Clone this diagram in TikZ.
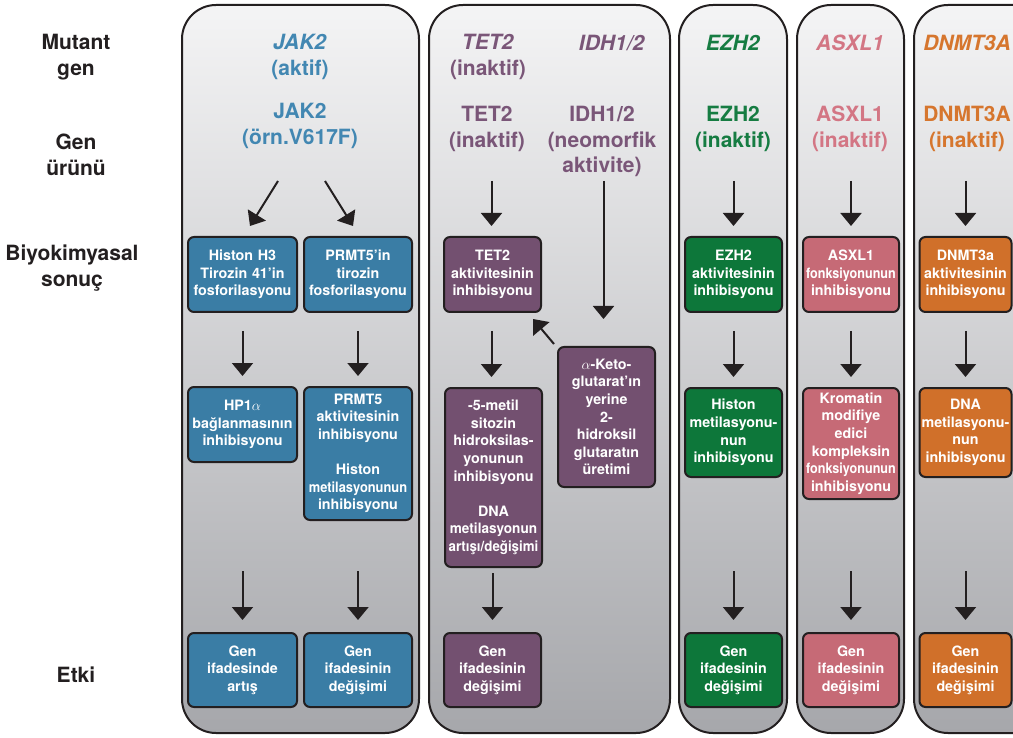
\documentclass[tikz,border=0pt]{standalone}
\usepackage{fontspec}
\setmainfont{TeX Gyre Heros}
\usepackage{graphicx}
\usetikzlibrary{arrows.meta,calc}
\definecolor{ink}{RGB}{35,31,32}
\definecolor{panelTop}{RGB}{244,244,245}
\definecolor{panelBot}{RGB}{166,167,171}
\definecolor{cBlue}{RGB}{58,125,165}
\definecolor{tBlue}{RGB}{66,135,178}
\definecolor{cPurple}{RGB}{115,80,112}
\definecolor{tPurple}{RGB}{122,86,120}
\definecolor{cGreen}{RGB}{13,119,58}
\definecolor{tGreen}{RGB}{22,124,66}
\definecolor{cPink}{RGB}{198,106,118}
\definecolor{tPink}{RGB}{211,118,132}
\definecolor{cOrange}{RGB}{208,112,42}
\definecolor{tOrange}{RGB}{214,118,46}
\newcommand{\cmpr}[2][0.92]{\scalebox{#1}[1]{#2}}
\tikzset{
  panel/.style={draw=ink, line width=2pt, rounded corners=34pt, top color=panelTop, bottom color=panelBot},
  gbox/.style={draw=ink, line width=2pt, rounded corners=6pt, text=white, align=center,
    inner xsep=0pt, inner ysep=0pt, font=\fontsize{14.3}{17.6}\selectfont\bfseries},
  hdr/.style={align=center, inner sep=0pt, font=\fontsize{21}{25.5}\selectfont\bfseries},
  lbl/.style={hdr, text=ink},
  arr/.style={draw=ink, line width=2pt, -{Triangle[width=21pt,length=13pt]}},
}
\begin{document}
\begin{tikzpicture}[x=1pt,y=-1pt]
\useasboundingbox (0,0) rectangle (1013,738);
\clip (0,0) rectangle (1013,738);
% panels
\path[panel] (182,5) rectangle (419,733);
\path[panel] (429,5) rectangle (670,733);
\path[panel] (679,5) rectangle (787,733);
\path[panel] (797,5) rectangle (904,733);
\path[panel] (914,5) rectangle (1050,733);
% row labels
\node[lbl] (lMut) at (76,57) {Mutant\\gen};
\node[lbl] (lGen) at (76,155) {Gen\\ürünü};
\node[lbl] (lBio) at (72,268) {Biyokimyasal\\sonuç};
\node[lbl] (lEtk) at (76,675) {Etki};
% headers
\node[hdr, text=tBlue] (hJ1) at (300,57) {\textit{JAK2}\\(aktif)};
\node[hdr, text=tBlue] (hJ2) at (300,126) {JAK2\\(örn.V617F)};
\node[hdr, text=tPurple] (hT1) at (488,57) {\textit{TET2}\\(inaktif)};
\node[hdr, text=tPurple] (hI1) at (612,43) {\textit{IDH1/2}};
\node[hdr, text=tPurple] (hT2) at (487,129) {TET2\\(inaktif)};
\node[hdr, text=tPurple] (hI2) at (602,141.5) {IDH1/2\\(neomorfik\\aktivite)};
\node[hdr, text=tGreen] (hE1) at (733,43) {\textit{EZH2}};
\node[hdr, text=tGreen] (hE2) at (733,129) {EZH2\\(inaktif)};
\node[hdr, text=tPink] (hA1) at (850,43) {\textit{ASXL1}};
\node[hdr, text=tPink] (hA2) at (850,129) {ASXL1\\(inaktif)};
\node[hdr, text=tOrange] (hD1) at (967,43) {\textit{DNMT3A}};
\node[hdr, text=tOrange] (hD2) at (967,129) {DNMT3A\\(inaktif)};
% panel 1 boxes
\node[gbox, fill=cBlue, text width=109pt, minimum height=75pt] (b11) at (242.5,274.5) {Histon H3\\Tirozin 41’in\\fosforilasyonu};
\node[gbox, fill=cBlue, text width=108pt, minimum height=75pt] (b12) at (358,274.5) {PRMT5’in\\tirozin\\fosforilasyonu};
\node[gbox, fill=cBlue, text width=109pt, minimum height=75pt] (b21) at (242.5,424.5) {HP1$\mathbf{\alpha}$\\bağlanmasının\\inhibisyonu};
\node[gbox, fill=cBlue, text width=108pt, minimum height=133pt] (b22) at (358,453.5) {PRMT5\\aktivitesinin\\inhibisyonu\\[17.6pt]Histon\\\cmpr[0.9]{metilasyonunun}\\inhibisyonu};
\node[gbox, fill=cBlue, text width=109pt, minimum height=74pt] (b31) at (242.5,670) {Gen\\ifadesinde\\artış};
\node[gbox, fill=cBlue, text width=108pt, minimum height=74pt] (b32) at (358,670) {Gen\\ifadesinin\\değişimi};
% panel 2 boxes
\node[gbox, fill=cPurple, text width=97pt, minimum height=75pt] (t1) at (492.5,274.5) {TET2\\aktivitesinin\\inhibisyonu};
\node[gbox, fill=cPurple, text width=97pt, minimum height=179pt] (t2) at (493.5,477.5) {-5-metil\\sitozin\\hidroksilas-\\yonunun\\inhibisyonu\\[17.6pt]DNA\\\cmpr[0.95]{metilasyonun}\\\cmpr[0.93]{artışı/değişimi}};
\node[gbox, fill=cPurple, text width=97pt, minimum height=140pt] (tk) at (606.5,417) {$\alpha$-Keto-\\glutarat’ın\\yerine\\2-\\hidroksil\\glutaratın\\üretimi};
\node[gbox, fill=cPurple, text width=97pt, minimum height=74pt] (t3) at (492.5,670) {Gen\\ifadesinin\\değişimi};
% panel 3 boxes
\node[gbox, fill=cGreen, text width=97pt, minimum height=75pt] (e1) at (733.5,274.5) {EZH2\\aktivitesinin\\inhibisyonu};
\node[gbox, fill=cGreen, text width=97pt, minimum height=89pt] (e2) at (733.5,432.5) {Histon\\metilasyonu-\\nun\\inhibisyonu};
\node[gbox, fill=cGreen, text width=97pt, minimum height=74pt] (e3) at (733.5,670) {Gen\\ifadesinin\\değişimi};
% panel 4 boxes
\node[gbox, fill=cPink, text width=96pt, minimum height=75pt] (a1) at (851,274.5) {ASXL1\\\cmpr[0.88]{fonksiyonunun}\\inhibisyonu};
\node[gbox, fill=cPink, text width=96pt, minimum height=111pt] (a2) at (851,443.5) {Kromatin\\modifiye\\edici\\kompleksin\\\cmpr[0.88]{fonksiyonunun}\\inhibisyonu};
\node[gbox, fill=cPink, text width=96pt, minimum height=74pt] (a3) at (851,670) {Gen\\ifadesinin\\değişimi};
% panel 5 boxes
\node[gbox, fill=cOrange, text width=92pt, minimum height=75pt] (d1) at (965.5,274.5) {DNMT3a\\aktivitesinin\\inhibisyonu};
\node[gbox, fill=cOrange, text width=92pt, minimum height=89pt] (d2) at (965.5,432.5) {DNA\\metilasyonu-\\nun\\inhibisyonu};
\node[gbox, fill=cOrange, text width=92pt, minimum height=74pt] (d3) at (965.5,670) {Gen\\ifadesinin\\değişimi};
% arrows panel 1
\draw[arr] ($(b11.north)+(35.5,-55)$) -- ($(b11.north)+(7.5,-10)$);
\draw[arr] ($(b12.north)+(-33,-55)$) -- ($(b12.north)+(-5,-10)$);
\draw[arr, shorten <=18pt, shorten >=10pt] (b11.south) -- (b21.north);
\draw[arr, shorten <=18pt, shorten >=10pt] (b12.south) -- (b22.north);
\draw[arr, shorten <=108pt, shorten >=12pt] (b21.south) -- (b31.north);
\draw[arr, shorten <=50pt, shorten >=12pt] (b22.south) -- (b32.north);
% arrows panel 2
\draw[arr] ($(t1.north)+(-1,-55)$) -- ($(t1.north)+(-1,-10)$);
\draw[arr, shorten <=18pt, shorten >=10pt] ($(t1.south)+(-1,0)$) -- ($(t2.north)+(-2,0)$);
\draw[arr, shorten <=5pt, shorten >=12pt] ($(t2.south)+(-1,0)$) -- (t3.north);
\draw[arr] ($(tk.north)+(-3,-165)$) -- ($(tk.north)+(-3,-27)$);
\draw[arr] ($(tk.north west)+(-3,-2)$) -- ($(t1.south east)+(-9,6)$);
% arrows panels 3-5
\foreach \p in {e,a,d}{
  \draw[arr] ($(\p1.north)+(0,-55)$) -- ($(\p1.north)+(0,-10)$);
  \draw[arr, shorten <=18pt, shorten >=10pt] (\p1.south) -- (\p2.north);
}
\draw[arr, shorten <=93pt, shorten >=12pt] (e2.south) -- (e3.north);
\draw[arr, shorten <=71pt, shorten >=12pt] (a2.south) -- (a3.north);
\draw[arr, shorten <=93pt, shorten >=12pt] (d2.south) -- (d3.north);
\end{tikzpicture}
\end{document}
